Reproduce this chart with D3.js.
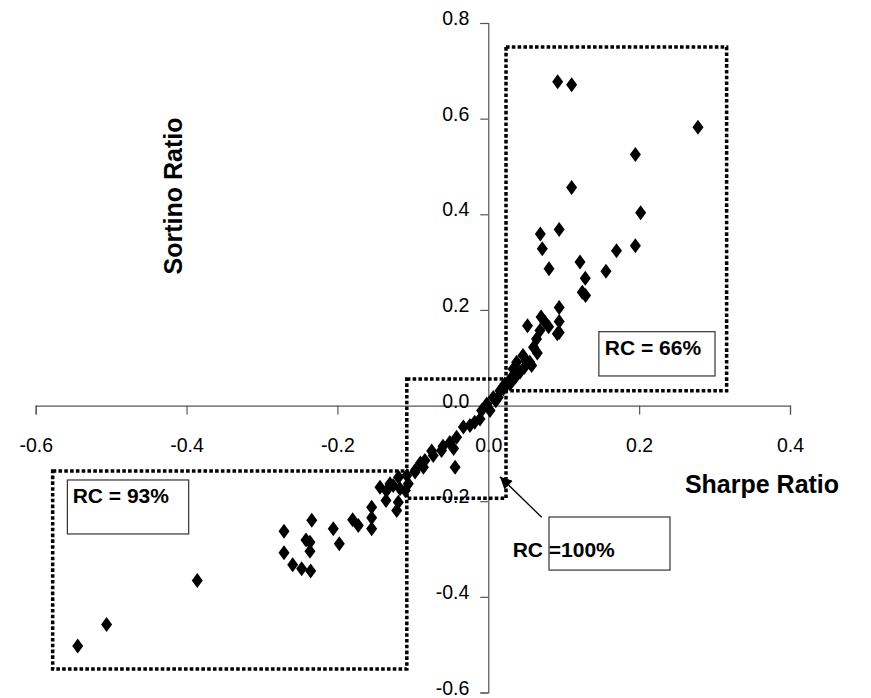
<!DOCTYPE html>
<html>
<head>
<meta charset="utf-8">
<script src="https://cdn.jsdelivr.net/npm/d3@7"></script>
<style>
  body { margin: 0; background: #fff; }
  svg { display: block; font-family: Arial, "Liberation Sans", sans-serif; }
</style>
</head>
<body>
<svg></svg>
<script>
// Sharpe ratio (x) and Sortino ratio (y) per fund
let sharpe = [
  0.092, 0.1105, 0.278, 0.195, 0.1105, 0.202, 0.069, 0.094, 0.0716, 0.195, 0.170, 0.0805,
  0.1216, 0.156, 0.1286, 0.1246, 0.129, 0.094,
  0.094, 0.094, 0.0915, 0.070, 0.052, 0.0685, 0.064, 0.060, 0.046, 0.055, 0.0376, 0.033,
  0.031, 0.022, 0.0155, 0.0066, -0.002, -0.0088,
  0.0575, 0.042, 0.0288, 0.0133, 0.0023, -0.011, -0.0243, -0.033, -0.042, -0.051, -0.046,
  -0.044, -0.062, -0.073, -0.084, -0.086, -0.097, -0.108, -0.119, -0.126, -0.135, -0.117,
  -0.5443, -0.506, -0.3858, -0.2708, -0.2708, -0.2593, -0.2474, -0.2355, -0.234, -0.2417,
  -0.2364, -0.2364, -0.2055, -0.1975, -0.1798, -0.1723, -0.1546, -0.1546, -0.1546, -0.1436,
  -0.1356, -0.1303, -0.1214, -0.1193, -0.110, -0.106, -0.097,
  0.020, 0.036, 0.048, 0.010, -0.018, -0.060, -0.075, -0.090, 0.075, 0.080, 0.065, 0.050
]
let sortino = [
  0.677, 0.671, 0.582, 0.525, 0.456, 0.403, 0.359, 0.368, 0.328, 0.334, 0.324, 0.286,
  0.300, 0.281, 0.266, 0.237, 0.230, 0.205,
  0.176, 0.153, 0.150, 0.185, 0.167, 0.157, 0.139, 0.122, 0.1045, 0.0905, 0.0905, 0.0767,
  0.059, 0.045, 0.031, 0.017, 0.0035, -0.0104,
  0.0836, 0.0696, 0.045, 0.0174, -0.0104, -0.028, -0.0418, -0.045, -0.066, -0.077, -0.090,
  -0.129, -0.094, -0.1045, -0.115, -0.129, -0.136, -0.146, -0.150, -0.167, -0.178, -0.174,
  -0.503, -0.458, -0.366, -0.2627, -0.308, -0.333, -0.341, -0.346, -0.240, -0.281,
  -0.2856, -0.3044, -0.2577, -0.289, -0.239, -0.251, -0.2125, -0.2347, -0.2577, -0.1707,
  -0.1985, -0.1637, -0.2194, -0.202, -0.1776, -0.1637, -0.139,
  0.035, 0.060, 0.080, 0.010, -0.035, -0.085, -0.095, -0.120, 0.175, 0.165, 0.110, 0.095
]
let xTicks = [-0.6, -0.4, -0.2, 0.0, 0.2, 0.4]
let yTicks = [-0.6, -0.4, -0.2, 0.0, 0.2, 0.4, 0.6, 0.8]

// dotted regions, in data units: [x0, x1, y0, y1]
let regions = [
  [0.0235, 0.316, 0.031, 0.750],
  [-0.108, 0.0235, -0.194, 0.0556],
  [-0.5775, -0.108, -0.551, -0.137]
]
// RC labels: box [x0, x1, y0, y1], text anchor [x, y]
let rcText = ['RC = 66%', 'RC = 93%', 'RC =100%']
let rcBox = [
  [0.1466, 0.3006, 0.0619, 0.1545],
  [-0.558, -0.3972, -0.2685, -0.1556],
  [0.0805, 0.2409, -0.344, -0.233]
]
let rcPos = [[0.1545, 0.1058], [-0.551, -0.2037], [0.0323, -0.3166]]
let arrowFrom = [0.0708, -0.2336]
let arrowTo = [0.0155, -0.1487]

let width = 871
let height = 698

let svg = d3.select('svg')
            .attr('width', width)
            .attr('height', height)

let x = d3.scaleLinear().domain([-0.6, 0.4]).range([35.7, 790])
let y = d3.scaleLinear().domain([-0.6, 0.8]).range([692.5, 23])

// axes crossing at origin
let xAxis = d3.axisBottom(x)
              .tickValues(xTicks)
              .tickSize(9)
              .tickPadding(24)
              .tickFormat(d3.format('.1f'))
let yAxis = d3.axisLeft(y)
              .tickValues(yTicks)
              .tickSize(8)
              .tickPadding(11)
              .tickFormat(d3.format('.1f'))

let gx = svg.append('g')
            .attr('transform', `translate(0,${y(0)})`)
            .call(xAxis)
let gy = svg.append('g')
            .attr('transform', `translate(${x(0)},0)`)
            .call(yAxis)

for (let g of [gx, gy]) {
  g.select('.domain').attr('stroke', '#555').attr('stroke-width', 1.2)
  g.selectAll('.tick line').attr('stroke', '#555').attr('stroke-width', 1.2)
  g.selectAll('.tick text')
   .attr('fill', '#000')
   .style('font-size', '19.5px')
   .style('font-family', 'Arial, "Liberation Sans", sans-serif')
   .text(d => d3.format('.1f')(d).replace('−', '-'))
}
// labels sit a little above their ticks, as in the original
gy.selectAll('.tick text').attr('dy', '0.08em')

// dotted regions
svg.append('g').selectAll('rect')
   .data(regions)
   .enter()
   .append('rect')
   .attr('x', d => x(d[0]))
   .attr('y', d => y(d[3]))
   .attr('width', d => x(d[1]) - x(d[0]))
   .attr('height', d => y(d[2]) - y(d[3]))
   .attr('fill', 'none')
   .attr('stroke', '#000')
   .attr('stroke-width', 3.5)
   .attr('stroke-dasharray', '3.6,2.2')

// points
let diamond = 'M0,-7.5L5.5,0L0,7.5L-5.5,0Z'
svg.append('g').selectAll('path')
   .data(sharpe.map((s, i) => [s, sortino[i]]))
   .enter()
   .append('path')
   .attr('d', diamond)
   .attr('transform', d => `translate(${x(d[0])},${y(d[1])})`)
   .attr('fill', '#000')

// RC boxes
let labels = svg.append('g')
labels.selectAll('rect')
      .data(rcBox)
      .enter()
      .append('rect')
      .attr('x', d => x(d[0]))
      .attr('y', d => y(d[3]))
      .attr('width', d => x(d[1]) - x(d[0]))
      .attr('height', d => y(d[2]) - y(d[3]))
      .attr('fill', '#fff')
      .attr('stroke', '#333')
      .attr('stroke-width', 1.2)
labels.selectAll('text')
      .data(rcText)
      .enter()
      .append('text')
      .attr('x', (d, i) => x(rcPos[i][0]))
      .attr('y', (d, i) => y(rcPos[i][1]))
      .style('font-size', '21px')
      .style('font-weight', 'bold')
      .text(d => d)

// arrow
svg.append('defs').append('marker')
   .attr('id', 'head')
   .attr('viewBox', '0 0 10 10')
   .attr('refX', 10)
   .attr('refY', 5)
   .attr('markerWidth', 14)
   .attr('markerHeight', 12)
   .attr('markerUnits', 'userSpaceOnUse')
   .attr('orient', 'auto')
   .append('path')
   .attr('d', 'M0,0L10,5L0,10Z')
   .attr('fill', '#000')
svg.append('line')
   .attr('x1', x(arrowFrom[0]))
   .attr('y1', y(arrowFrom[1]))
   .attr('x2', x(arrowTo[0]))
   .attr('y2', y(arrowTo[1]))
   .attr('stroke', '#000')
   .attr('stroke-width', 1.3)
   .attr('marker-end', 'url(#head)')

// axis titles
svg.append('text')
   .attr('transform', 'translate(182,196) rotate(-90)')
   .attr('text-anchor', 'middle')
   .style('font-size', '25px')
   .style('font-weight', 'bold')
   .text('Sortino Ratio')

svg.append('text')
   .attr('x', 762)
   .attr('y', 493)
   .attr('text-anchor', 'middle')
   .style('font-size', '25px')
   .style('font-weight', 'bold')
   .text('Sharpe Ratio')
</script>
</body>
</html>
